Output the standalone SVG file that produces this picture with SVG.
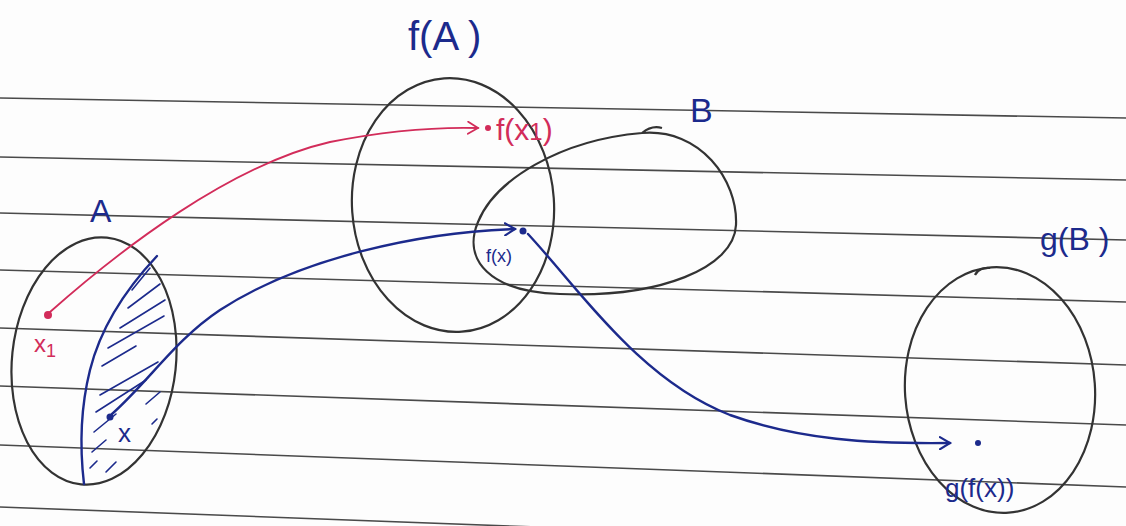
<svg xmlns="http://www.w3.org/2000/svg" width="1126" height="526" viewBox="0 0 1126 526">
<style>
.rule{stroke:#4a4a4a;stroke-width:1.6;fill:none}
.set{stroke:#333;stroke-width:2.2;fill:none}
.blue{stroke:#1c2a8c;stroke-width:2.4;fill:none;stroke-linecap:round}
.red{stroke:#d22c5a;stroke-width:1.8;fill:none;stroke-linecap:round}
.hatch{stroke:#1c2a8c;stroke-width:1.6;fill:none;stroke-linecap:round}
.tb{fill:#1c2a8c;font-family:"Liberation Sans",sans-serif}
.tr{fill:#d22c5a;font-family:"Liberation Sans",sans-serif}
</style>
<defs>
<marker id="ab" markerWidth="14" markerHeight="14" refX="11" refY="7" orient="auto" markerUnits="userSpaceOnUse">
<path d="M1,1 L11,7 L1,13" fill="none" stroke="#1c2a8c" stroke-width="2.2" stroke-linecap="round"/>
</marker>
<marker id="ar" markerWidth="14" markerHeight="14" refX="11" refY="7" orient="auto" markerUnits="userSpaceOnUse">
<path d="M1,1 L11,7 L1,13" fill="none" stroke="#d22c5a" stroke-width="1.8" stroke-linecap="round"/>
</marker>
</defs>
<rect width="1126" height="526" fill="#fdfdfd"/>
<g id="rules">
<line class="rule" x1="0" y1="98" x2="1126" y2="118"/>
<line class="rule" x1="0" y1="157" x2="1126" y2="180"/>
<line class="rule" x1="0" y1="213" x2="1126" y2="240"/>
<line class="rule" x1="0" y1="270" x2="1126" y2="302"/>
<line class="rule" x1="0" y1="328" x2="1126" y2="365"/>
<line class="rule" x1="0" y1="386" x2="1126" y2="425"/>
<line class="rule" x1="0" y1="445" x2="1126" y2="487"/>
<line class="rule" x1="0" y1="507" x2="1126" y2="549"/>
</g>
<g id="setA">
<ellipse class="set" cx="94" cy="361" rx="82" ry="124" transform="rotate(6 94 361)"/>
<path class="blue" d="M157,256 C125,290 100,330 90,370 C80,410 80,450 84,484"/>
<g>
<line class="hatch" x1="132" y1="290" x2="150" y2="268"/>
<line class="hatch" x1="128" y1="308" x2="160" y2="284"/>
<line class="hatch" x1="120" y1="328" x2="165" y2="300"/>
<line class="hatch" x1="108" y1="348" x2="164" y2="316"/>
<line class="hatch" x1="102" y1="366" x2="136" y2="346"/>
<line class="hatch" x1="100" y1="395" x2="158" y2="362"/>
<line class="hatch" x1="96" y1="412" x2="146" y2="380"/>
<line class="hatch" x1="94" y1="432" x2="116" y2="414"/>
<line class="hatch" x1="146" y1="404" x2="160" y2="392"/>
<line class="hatch" x1="92" y1="452" x2="106" y2="440"/>
<line class="hatch" x1="152" y1="424" x2="157" y2="419"/>
<line class="hatch" x1="106" y1="472" x2="116" y2="462"/>
<line class="hatch" x1="90" y1="468" x2="97" y2="461"/>
</g>
<text class="tb" x="90" y="222" font-size="32">A</text>
</g>
<g id="setFA">
<ellipse class="set" cx="453" cy="205" rx="101" ry="127" transform="rotate(-4 453 205)"/>
<text class="tb" x="408" y="50" font-size="40">f(A )</text>
</g>
<g id="setB">
<path class="set" d="M642,133 C700,128 738,180 736,225 C734,268 660,298 560,294 C490,292 462,260 478,222 C495,180 560,140 642,133 C648,128 655,126 662,128"/>
<text class="tb" x="690" y="122" font-size="34">B</text>
</g>
<g id="setGB">
<ellipse class="set" cx="1000" cy="390" rx="95" ry="123" transform="rotate(-4 1000 390)"/>
<path class="set" d="M975,275 C977,270 984,267 990,268"/>
<text class="tb" x="1040" y="250" font-size="32">g(B )</text>
</g>
<g id="points">
<circle cx="48" cy="315" r="4" fill="#d22c5a"/>
<text class="tr" x="34" y="352" font-size="24">x<tspan font-size="18" dy="5">1</tspan></text>
<circle cx="110" cy="417" r="3.5" fill="#1c2a8c"/>
<text class="tb" x="118" y="442" font-size="26">x</text>
<circle cx="488" cy="128" r="3" fill="#d22c5a"/>
<text class="tr" x="496" y="140" font-size="30">f(x<tspan font-size="24">1</tspan>)</text>
<circle cx="523" cy="231" r="3.5" fill="#1c2a8c"/>
<text class="tb" x="486" y="262" font-size="18">f(x)</text>
<circle cx="978" cy="443" r="3" fill="#1c2a8c"/>
<text class="tb" x="945" y="497" font-size="26">g(f(x))</text>
</g>
<g id="connectors">
<path class="red" d="M50,312 C120,250 230,165 330,142 C390,130 440,127 478,128" marker-end="url(#ar)"/>
<path class="blue" d="M112,414 C150,380 175,340 220,310 C300,258 420,232 515,229" marker-end="url(#ab)"/>
<path class="blue" d="M528,234 C580,290 640,380 730,415 C800,440 870,444 950,443" marker-end="url(#ab)"/>
</g>
</svg>
